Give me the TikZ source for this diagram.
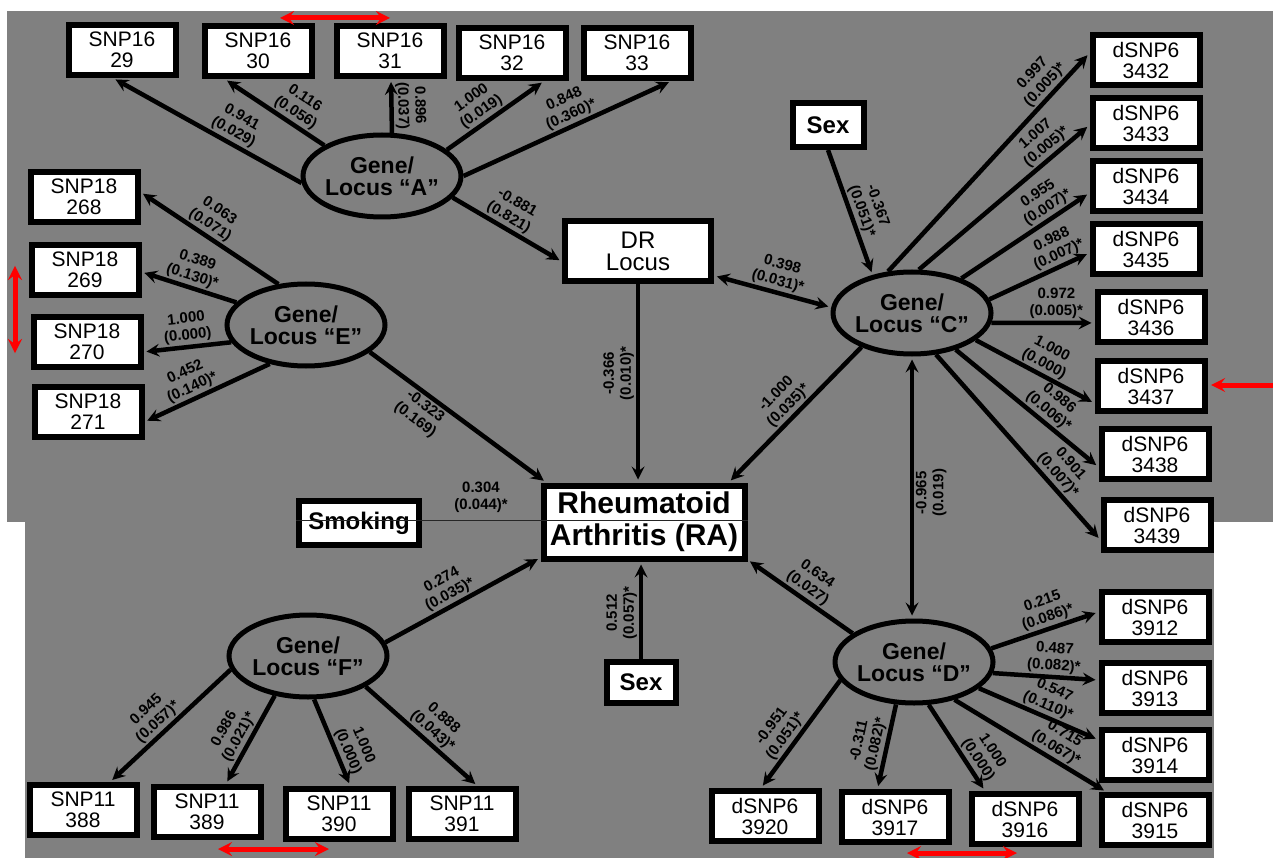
\documentclass[tikz,border=0pt]{standalone}
\usepackage{fontspec}
\setmainfont{Liberation Sans}
\usetikzlibrary{shapes.geometric, arrows}
\definecolor{panelgray}{RGB}{128,128,128}

\begin{document}
\begin{tikzpicture}[x=1pt, y=-1pt,
    snpbox/.style={rectangle, draw, line width=6pt, fill=white, minimum width=107pt, minimum height=50pt, inner sep=1pt, align=center, font=\fontsize{21}{21}\selectfont},
    locus/.style={ellipse, draw, line width=5pt, minimum width=158pt, minimum height=82pt, inner ysep=0pt, inner xsep=-3pt, align=center, font=\fontsize{23}{22}\selectfont\bfseries},
    factor/.style={rectangle, draw, line width=6pt, fill=white, inner sep=1pt, align=center, font=\fontsize{24}{24}\selectfont\bfseries},
    drbox/.style={rectangle, draw, line width=6pt, fill=white, minimum width=146pt, minimum height=60pt, inner sep=1pt, align=center, font=\fontsize{24}{22}\selectfont},
    outcome/.style={rectangle, draw, line width=6pt, fill=white, minimum width=201pt, minimum height=73pt, inner sep=1pt, align=center, font=\fontsize{30}{32}\selectfont\bfseries},
    arrow/.style={line width=4.5pt,->,>=stealth, shorten >=3pt},
    twoway/.style={line width=4.5pt,<->,>=stealth, shorten >=3pt, shorten <=3pt},
    coef/.style={font=\fontsize{15}{17}\selectfont\bfseries, align=center, inner sep=1pt, outer sep=3pt, sloped, above},
    coefv/.style={font=\fontsize{15}{17}\selectfont\bfseries, align=center, inner sep=1pt, outer sep=3pt},
    redmark/.style={red, line width=5pt,<->,>=stealth},
    seam/.style={line width=1pt, black!85}]

    \useasboundingbox (0,0) rectangle (1273,858);
    \fill[panelgray] (7,11) rectangle (1273,522);
    \fill[panelgray] (25,522) rectangle (1214,858);

    % loci
    \node [locus] (elA) at (382,176) {Gene/\\Locus ``A''};
    \node [locus] (elE) at (306,325) {Gene/\\Locus ``E''};
    \node [locus] (elC) at (912,313) {Gene/\\Locus ``C''};
    \node [locus] (elD) at (914,662) {Gene/\\Locus ``D''};
    \node [locus] (elF) at (308,656) {Gene/\\Locus ``F''};

    \node [outcome] (ra) at (644,522) {Rheumatoid\\Arthritis (RA)};
    \node [drbox] (dr) at (638,251) {DR\\Locus};
    \node [factor, minimum width=71pt, minimum height=44pt] (sexC) at (828,125) {Sex};
    \node [factor, minimum width=69pt, minimum height=41pt] (sexR) at (641,682) {Sex};
    \node [factor, minimum width=120pt, minimum height=44pt] (smk) at (359,523) {Smoking};

    \node [snpbox] (s29) at (122,50) {SNP16\\29};
    \node [snpbox] (s30) at (258,51) {SNP16\\30};
    \node [snpbox] (s31) at (390,51) {SNP16\\31};
    \node [snpbox] (s32) at (512,53) {SNP16\\32};
    \node [snpbox] (s33) at (637,53) {SNP16\\33};

    \node [snpbox] (e268) at (84,197) {SNP18\\268};
    \node [snpbox] (e269) at (85,270) {SNP18\\269};
    \node [snpbox] (e270) at (87,342) {SNP18\\270};
    \node [snpbox] (e271) at (88,412) {SNP18\\271};

    \node [snpbox] (c3432) at (1146,60) {dSNP6\\3432};
    \node [snpbox] (c3433) at (1146,123) {dSNP6\\3433};
    \node [snpbox] (c3434) at (1146,186) {dSNP6\\3434};
    \node [snpbox] (c3435) at (1146,249) {dSNP6\\3435};
    \node [snpbox] (c3436) at (1151,317) {dSNP6\\3436};
    \node [snpbox] (c3437) at (1151,386) {dSNP6\\3437};
    \node [snpbox] (c3438) at (1155,454) {dSNP6\\3438};
    \node [snpbox] (c3439) at (1157,525) {dSNP6\\3439};

    \node [snpbox] (d3912) at (1155,617) {dSNP6\\3912};
    \node [snpbox] (d3913) at (1155,688) {dSNP6\\3913};
    \node [snpbox] (d3914) at (1155,755) {dSNP6\\3914};
    \node [snpbox] (d3915) at (1155,820) {dSNP6\\3915};
    \node [snpbox] (d3916) at (1025,819) {dSNP6\\3916};
    \node [snpbox] (d3917) at (895,817) {dSNP6\\3917};
    \node [snpbox] (d3920) at (765,816) {dSNP6\\3920};

    \node [snpbox] (f388) at (83,810) {SNP11\\388};
    \node [snpbox] (f389) at (207,812) {SNP11\\389};
    \node [snpbox] (f390) at (339,814) {SNP11\\390};
    \node [snpbox] (f391) at (462,814) {SNP11\\391};

    % paths
    \draw [arrow] (elA.185) -- (s29.252) node[coef, pos=0.39] {0.941\\(0.029)};
    \draw [arrow] (elA.152) -- (s30.220) node[coef, pos=0.35] {0.116\\(0.056)};
    \draw [arrow] (elA.77) -- (s31.272) node[coef, midway] {0.896\\(0.037)};
    \draw [arrow] (elA.22) -- (s32.319) node[coef, pos=0.42] {1.000\\(0.019)};
    \draw [arrow] (elA.0) -- (s33.321) node[coef, pos=0.54] {0.848\\(0.360)*};
    \draw [arrow] (elA.343) -- (dr.188) node[coef, pos=0.46] {-0.881\\(0.821)};

    \draw [arrow] (elE.124) -- (e268.5) node[coef, pos=0.54] {0.063\\(0.071)};
    \draw [arrow] (elE.162) -- (e269.358) node[coef, midway] {0.389\\(0.130)*};
    \draw [arrow] (elE.193) -- (e270.350) node[coef, pos=0.48] {1.000\\(0.000)};
    \draw [arrow] (elE.227) -- (e271.350) node[coef, pos=0.58] {0.452\\(0.140)*};
    \draw [arrow] (elE.337) -- (ra.158) node[coef, below, pos=0.35] {-0.323\\(0.169)};

    \draw [arrow] (dr.south) -- (dr.south |- ra.north) node[coefv, pos=0.45, anchor=south, rotate=90] {-0.366\\(0.010)*};
    \draw [twoway] (dr.342) -- (elC.176) node[coef, pos=0.52] {0.398\\(0.031)*};

    \draw [arrow] (sexC.south) -- (elC.136) node[coef, pos=0.52] {-0.367\\(0.051)*};
    \draw [arrow] (elC.214) -- (ra.25) node[coef, pos=0.49] {-1.000\\(0.035)*};
    \draw [arrow] (elC.120) -- (c3432.173) node[coef, pos=0.82] {0.997\\(0.005)*};
    \draw [arrow] (elC.81) -- (c3433.182) node[coef, pos=0.79] {1.007\\(0.005)*};
    \draw [arrow] (elC.35) -- (c3434.187) node[coef, pos=0.72] {0.955\\(0.007)*};
    \draw [arrow] (elC.10) -- (c3435.184) node[coef, pos=0.74] {0.988\\(0.007)*};
    \draw [arrow] (elC.353) -- (c3436.186) node[coef, pos=0.63] {0.972\\(0.005)*};
    \draw [arrow] (elC.337) -- (c3437.197) node[coef, pos=0.53] {1.000\\(0.000)};
    \draw [arrow] (elC.320) -- (c3438.193) node[coef, pos=0.6] {0.986\\(0.006)*};
    \draw [arrow] (elC.300) -- (c3439.195) node[coef, pos=0.69] {0.901\\(0.007)*};
    \draw [twoway] (elC.south) -- (elC.south |- elD.north) node[coefv, pos=0.52, anchor=north, rotate=90] {-0.965\\(0.019)};

    \draw [arrow] (elD.155) -- (ra.340) node[coef, pos=0.49] {0.634\\(0.027)};
    \draw [arrow] (elD.10) -- (d3912.175) node[coef, pos=0.56] {0.215\\(0.086)*};
    \draw [arrow] (elD.352) -- (d3913.172) node[coef, pos=0.57] {0.487\\(0.082)*};
    \draw [arrow] (elD.338) -- (d3914.165) node[coef, pos=0.54] {0.547\\(0.110)*};
    \draw [arrow] (elD.317) -- (d3915.150) node[coef, pos=0.63] {0.715\\(0.067)*};
    \draw [arrow] (elD.289) -- (d3916.145) node[coef, pos=0.71] {1.000\\(0.000)};
    \draw [arrow] (elD.247) -- (d3917.122) node[coef, pos=0.5] {-0.311\\(0.082)*};
    \draw [arrow] (elD.194) -- (d3920.98) node[coef, pos=0.58] {-0.951\\(0.051)*};

    \draw [arrow] (sexR.north) -- (sexR.north |- ra.south) node[coef, pos=0.47] {0.512\\(0.057)*};
    \path (smk.east) -- (ra.west) node[coef, midway, yshift=6pt] {0.304\\(0.044)*};

    \draw [arrow] (elF.10) -- (ra.199) node[coef, pos=0.45] {0.274\\(0.035)*};
    \draw [arrow] (elF.190) -- (f388.46) node[coef, pos=0.54] {0.945\\(0.057)*};
    \draw [arrow] (elF.230) -- (f389.56) node[coef, pos=0.53] {0.986\\(0.021)*};
    \draw [arrow] (elF.278) -- (f390.68) node[coef, pos=0.65] {1.000\\(0.000)};
    \draw [arrow] (elF.332) -- (f391.61) node[coef, pos=0.53] {0.888\\(0.043)*};

    \draw [seam] ([yshift=3pt]smk.west) -- ([yshift=3pt]smk.west -| ra.east);

    % red marks
    \coordinate (mkTa) at (280,18);  \coordinate (mkTb) at (390,18);
    \coordinate (mkLa) at (15,266);  \coordinate (mkLb) at (15,353);
    \coordinate (mkRa) at (1273,385); \coordinate (mkRb) at (1211,385);
    \coordinate (mkBa) at (218,849); \coordinate (mkBb) at (329,849);
    \coordinate (mkDa) at (907,853); \coordinate (mkDb) at (1017,853);
    \draw [redmark] (mkTa) -- (mkTb);
    \draw [redmark] (mkLa) -- (mkLb);
    \draw [redmark, ->] (mkRa) -- (mkRb);
    \draw [redmark] (mkBa) -- (mkBb);
    \draw [redmark] (mkDa) -- (mkDb);
\end{tikzpicture}
\end{document}
